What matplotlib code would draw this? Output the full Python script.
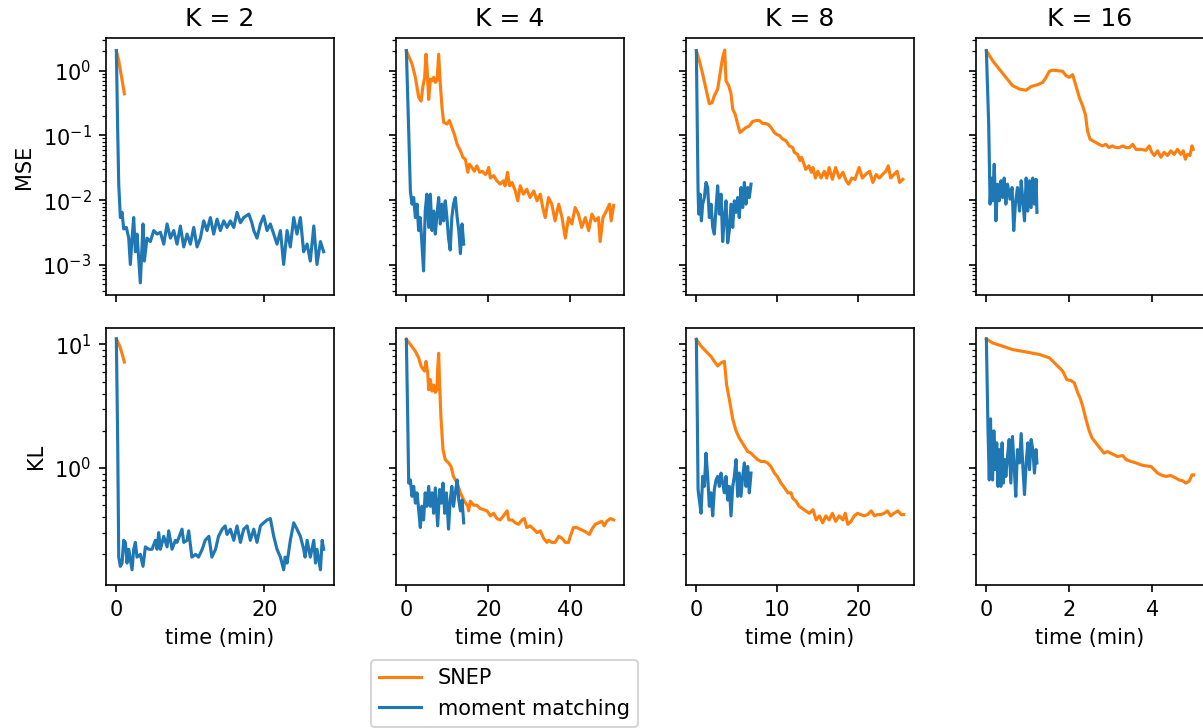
import matplotlib
matplotlib.use("Agg")
import matplotlib.pyplot as plt

ks = [2, 4, 8, 16]

# (time in min, value)
# ---- K = 2
snep_mse_2 = [(0, 2.04), (0.32, 1.43), (0.63, 0.89), (0.9, 0.59), (1.08, 0.44)]
mm_mse_2 = [(0, 2.04), (0.18, 0.118), (0.32, 0.0177), (0.54, 0.0054), (0.77, 0.0065), (0.99, 0.0036),
            (1.35, 0.0038), (1.67, 0.0026), (1.89, 0.00102), (2.12, 0.0026), (2.34, 0.0054), (2.57, 0.0016),
            (2.79, 0.0030), (3.24, 0.00053), (3.60, 0.0043), (3.78, 0.00115), (4.14, 0.0026), (4.59, 0.0023),
            (5.05, 0.0034), (5.50, 0.0030), (5.95, 0.0032), (6.40, 0.0021), (6.85, 0.0043), (7.30, 0.0026),
            (7.75, 0.0034), (8.20, 0.0021), (8.65, 0.0040), (9.10, 0.0019), (9.55, 0.0030), (10.0, 0.0021),
            (10.45, 0.0038), (10.9, 0.0019), (11.35, 0.0026), (11.8, 0.0048), (12.25, 0.0034), (12.7, 0.0054),
            (13.15, 0.0030), (13.6, 0.0051), (14.05, 0.0034), (14.5, 0.0048), (14.95, 0.0038), (15.4, 0.0048),
            (15.86, 0.0038), (16.3, 0.0065), (16.76, 0.0045), (17.2, 0.0054), (17.9, 0.0061), (18.3, 0.0045),
            (18.56, 0.0034), (19.0, 0.0026), (19.46, 0.0043), (19.9, 0.0057), (20.36, 0.0034), (20.8, 0.0043),
            (21.26, 0.0030), (21.7, 0.0021), (22.16, 0.0034), (22.6, 0.00102), (23.06, 0.0034), (23.5, 0.0019),
            (23.96, 0.0054), (24.4, 0.0030), (24.86, 0.0054), (25.3, 0.0016), (25.77, 0.0021), (26.2, 0.00115),
            (26.67, 0.0040), (27.1, 0.00102), (27.57, 0.0023), (28.0, 0.0016)]
snep_kl_2 = [(0, 11.1), (0.45, 9.7), (0.81, 8.3), (1.08, 7.2)]
mm_kl_2 = [(0, 11.1), (0.18, 1.6), (0.32, 0.19), (0.54, 0.16), (0.77, 0.17), (0.99, 0.26), (1.22, 0.25),
           (1.44, 0.17), (1.67, 0.22), (2.12, 0.15), (2.34, 0.22), (2.57, 0.25), (2.79, 0.19), (3.24, 0.20),
           (3.6, 0.16), (3.92, 0.23), (4.37, 0.22), (4.82, 0.22), (5.27, 0.26), (5.5, 0.22), (5.72, 0.30),
           (5.95, 0.22), (6.4, 0.28), (6.85, 0.23), (7.07, 0.31), (7.52, 0.22), (7.97, 0.26), (8.2, 0.25),
           (8.87, 0.32), (9.1, 0.25), (9.55, 0.26), (9.77, 0.31), (10.2, 0.19), (10.7, 0.20), (11.1, 0.19),
           (11.6, 0.22), (12.0, 0.26), (12.5, 0.28), (12.9, 0.19), (13.4, 0.22), (13.8, 0.28), (14.3, 0.32),
           (14.7, 0.34), (14.95, 0.29), (15.4, 0.32), (15.86, 0.26), (16.3, 0.34), (16.76, 0.25), (17.2, 0.32),
           (17.66, 0.34), (18.1, 0.26), (18.56, 0.32), (19.0, 0.25), (19.46, 0.34), (19.9, 0.36), (20.36, 0.38),
           (20.8, 0.39), (21.26, 0.28), (21.7, 0.22), (22.16, 0.19), (22.6, 0.15), (22.8, 0.19), (23.06, 0.17),
           (23.5, 0.26), (23.96, 0.36), (24.4, 0.32), (24.86, 0.28), (25.3, 0.22), (25.5, 0.19), (25.77, 0.26),
           (26.2, 0.19), (26.67, 0.26), (26.9, 0.17), (27.1, 0.22), (27.57, 0.15), (27.8, 0.26), (28.0, 0.22)]

# ---- K = 4
snep_mse_4 = [(0, 2.04), (1.38, 1.27), (2.2, 0.79), (3.0, 0.39), (3.58, 0.34), (4.07, 0.59), (4.47, 0.79),
              (4.8, 1.8), (5.04, 1.13), (5.45, 0.36), (5.85, 0.74), (6.26, 0.70), (6.67, 0.79), (7.07, 0.66),
              (7.48, 0.70), (7.89, 1.8), (8.29, 0.62), (8.7, 0.27), (9.1, 0.16), (9.92, 0.15), (10.5, 0.17),
              (11.1, 0.133), (11.7, 0.105), (12.4, 0.073), (13.2, 0.058), (13.8, 0.046), (14.4, 0.043),
              (15.0, 0.027), (15.4, 0.036), (16.0, 0.032), (16.6, 0.028), (17.2, 0.034), (17.9, 0.027),
              (18.5, 0.028), (19.3, 0.025), (19.7, 0.027), (20.1, 0.032), (20.5, 0.022), (21.3, 0.024),
              (22.1, 0.020), (22.9, 0.0177), (23.7, 0.020), (24.1, 0.0167), (24.7, 0.027), (25.2, 0.0167),
              (25.8, 0.0188), (26.6, 0.0139), (27.2, 0.0098), (27.8, 0.0167), (28.6, 0.0124), (29.4, 0.0148),
              (30.2, 0.011), (31.1, 0.0139), (31.9, 0.0098), (32.7, 0.0124), (33.3, 0.0077), (33.9, 0.0054),
              (34.7, 0.011), (35.5, 0.0087), (36.3, 0.0048), (37.2, 0.0087), (38.0, 0.0054), (38.8, 0.0026),
              (39.6, 0.0054), (40.4, 0.0043), (41.2, 0.0077), (42.0, 0.0061), (42.8, 0.0038), (43.7, 0.0054),
              (44.5, 0.0034), (45.3, 0.0061), (46.1, 0.0048), (46.9, 0.0054), (47.3, 0.0023), (48.0, 0.0054),
              (48.8, 0.0068), (49.6, 0.0087), (50.0, 0.0048), (50.6, 0.0083)]
mm_mse_4 = [(0, 2.04), (0.57, 0.118), (0.98, 0.0139), (1.38, 0.0087), (1.79, 0.011), (2.2, 0.0054),
            (2.6, 0.0087), (3.0, 0.0034), (3.4, 0.0054), (3.8, 0.0021), (4.2, 0.00081), (4.6, 0.0068),
            (5.0, 0.0124), (5.45, 0.0038), (5.85, 0.0124), (6.26, 0.0034), (6.67, 0.0068), (7.07, 0.0030),
            (7.48, 0.0061), (7.89, 0.011), (8.29, 0.0043), (8.7, 0.0087), (9.1, 0.0048), (9.5, 0.0098),
            (9.9, 0.0054), (10.3, 0.0026), (10.7, 0.0017), (11.1, 0.0054), (11.5, 0.0087), (11.95, 0.011),
            (12.4, 0.0054), (12.8, 0.0034), (13.2, 0.0015), (13.6, 0.0043), (14.0, 0.0021)]
snep_kl_4 = [(0, 11.0), (0.98, 10.0), (2.2, 8.8), (3.0, 7.8), (3.58, 6.7), (4.07, 6.3), (4.47, 6.1),
             (4.8, 7.3), (5.2, 5.9), (5.45, 4.3), (5.85, 5.2), (6.26, 4.2), (6.67, 4.7), (7.07, 4.1),
             (7.48, 4.3), (7.64, 6.3), (7.89, 8.5), (8.13, 4.6), (8.46, 2.5), (8.94, 1.41), (9.5, 1.17),
             (10.3, 1.10), (10.9, 1.03), (11.5, 0.855), (12.4, 0.755), (13.2, 0.63), (14.0, 0.55), (15.0, 0.49),
             (15.2, 0.45), (15.6, 0.54), (16.4, 0.50), (17.2, 0.50), (18.0, 0.47), (18.9, 0.46), (19.7, 0.45),
             (20.5, 0.41), (21.3, 0.43), (22.1, 0.39), (22.9, 0.38), (23.7, 0.41), (24.6, 0.45), (25.0, 0.38),
             (25.8, 0.38), (26.6, 0.36), (27.4, 0.35), (28.2, 0.38), (28.8, 0.39), (29.4, 0.33), (30.2, 0.34),
             (31.1, 0.32), (31.9, 0.30), (32.7, 0.31), (33.5, 0.27), (34.3, 0.25), (34.7, 0.26), (35.5, 0.25),
             (36.3, 0.25), (37.2, 0.28), (38.0, 0.27), (38.8, 0.25), (39.6, 0.25), (40.0, 0.28), (40.8, 0.33),
             (41.6, 0.33), (42.4, 0.32), (43.3, 0.31), (44.1, 0.30), (44.7, 0.29), (45.3, 0.32), (46.1, 0.35),
             (46.9, 0.36), (47.7, 0.37), (48.3, 0.34), (48.9, 0.37), (49.8, 0.39), (50.6, 0.38)]
mm_kl_4 = [(0, 11.0), (0.33, 2.5), (0.57, 0.755), (0.98, 0.80), (1.38, 0.59), (1.79, 0.71), (2.2, 0.52),
           (2.6, 0.63), (3.0, 0.46), (3.4, 0.33), (3.8, 0.49), (4.2, 0.38), (4.6, 0.63), (5.0, 0.49),
           (5.45, 0.71), (5.85, 0.49), (6.26, 0.63), (6.67, 0.43), (7.07, 0.69), (7.64, 0.34), (8.13, 0.67),
           (8.54, 0.52), (8.94, 0.755), (9.35, 0.43), (9.76, 0.63), (10.3, 0.32), (10.7, 0.55), (11.1, 0.71),
           (11.5, 0.49), (11.95, 0.63), (12.4, 0.80), (12.8, 0.55), (13.2, 0.45), (13.6, 0.55), (14.0, 0.36)]

# ---- K = 8
snep_mse_8 = [(0, 2.04), (0.37, 1.43), (0.78, 0.89), (1.19, 0.52), (1.6, 0.31), (1.93, 0.32), (2.22, 0.41),
              (2.63, 0.52), (3.05, 1.13), (3.25, 1.61), (3.5, 2.08), (3.66, 0.70), (3.99, 0.59), (4.28, 0.44),
              (4.49, 0.255), (4.81, 0.21), (5.1, 0.15), (5.39, 0.111), (5.72, 0.12), (6.13, 0.133), (6.54, 0.14),
              (6.95, 0.165), (7.37, 0.17), (7.78, 0.17), (8.19, 0.153), (8.6, 0.153), (8.93, 0.146),
              (9.22, 0.133), (9.63, 0.111), (9.84, 0.105), (10.25, 0.10), (10.66, 0.088), (11.07, 0.083),
              (11.48, 0.069), (11.9, 0.065), (12.1, 0.055), (12.5, 0.051), (12.8, 0.041), (13.0, 0.046),
              (13.3, 0.036), (13.5, 0.030), (13.9, 0.034), (14.2, 0.027), (14.4, 0.032), (14.7, 0.022),
              (15.0, 0.028), (15.4, 0.022), (15.8, 0.028), (16.1, 0.022), (16.4, 0.032), (16.8, 0.021),
              (17.2, 0.032), (17.65, 0.022), (18.1, 0.027), (18.5, 0.020), (18.8, 0.0177), (19.2, 0.022),
              (19.6, 0.021), (20.1, 0.032), (20.5, 0.022), (20.9, 0.025), (21.4, 0.028), (21.8, 0.0188),
              (22.2, 0.025), (22.6, 0.022), (23.0, 0.025), (23.4, 0.028), (23.7, 0.034), (24.0, 0.022),
              (24.4, 0.025), (24.8, 0.028), (25.1, 0.0188), (25.5, 0.021)]
mm_mse_8 = [(0, 2.04), (0.12, 0.118), (0.21, 0.0139), (0.29, 0.0061), (0.45, 0.0124), (0.62, 0.0048),
            (0.78, 0.0087), (0.99, 0.011), (1.19, 0.0188), (1.4, 0.0157), (1.6, 0.0054), (1.81, 0.0087),
            (2.02, 0.0038), (2.22, 0.0030), (2.43, 0.0077), (2.63, 0.0167), (2.84, 0.0061), (3.05, 0.0124),
            (3.25, 0.0023), (3.46, 0.0054), (3.66, 0.0098), (3.87, 0.0022), (4.07, 0.0034), (4.28, 0.0087),
            (4.49, 0.0038), (4.69, 0.0098), (4.9, 0.0065), (5.1, 0.011), (5.3, 0.0054), (5.51, 0.0157),
            (5.72, 0.0077), (5.93, 0.0188), (6.13, 0.0087), (6.34, 0.0157), (6.54, 0.011), (6.75, 0.0177)]
snep_kl_8 = [(0, 11.0), (0.58, 9.7), (1.19, 8.8), (1.81, 8.0), (2.22, 7.3), (2.63, 6.7), (3.05, 7.1),
             (3.46, 7.3), (3.74, 4.7), (4.07, 3.6), (4.49, 2.5), (4.9, 2.0), (5.3, 1.75), (5.8, 1.55),
             (6.34, 1.36), (6.75, 1.32), (7.16, 1.24), (7.57, 1.17), (7.98, 1.13), (8.4, 1.13), (8.8, 1.10),
             (9.2, 1.03), (9.63, 0.91), (10.0, 0.855), (10.45, 0.755), (10.9, 0.69), (11.3, 0.63), (11.7, 0.63),
             (11.9, 0.57), (12.3, 0.54), (12.7, 0.49), (13.1, 0.47), (13.5, 0.45), (13.95, 0.43), (14.4, 0.46),
             (14.8, 0.38), (15.2, 0.41), (15.6, 0.36), (16.0, 0.41), (16.4, 0.38), (16.8, 0.43), (17.2, 0.37),
             (17.65, 0.41), (18.1, 0.38), (18.4, 0.43), (18.7, 0.35), (19.1, 0.37), (19.5, 0.41), (19.9, 0.43),
             (20.3, 0.42), (20.7, 0.41), (21.15, 0.42), (21.6, 0.45), (22.0, 0.41), (22.4, 0.42), (22.8, 0.42),
             (23.2, 0.43), (23.6, 0.45), (24.0, 0.41), (24.4, 0.43), (24.9, 0.45), (25.3, 0.42), (25.6, 0.42)]
mm_kl_8 = [(0, 11.0), (0.12, 2.5), (0.21, 0.67), (0.37, 0.55), (0.58, 0.43), (0.78, 0.855), (0.99, 0.71),
           (1.19, 1.32), (1.4, 0.855), (1.6, 0.49), (1.81, 0.63), (2.02, 0.41), (2.22, 0.67), (2.43, 0.80),
           (2.63, 0.855), (2.84, 0.71), (3.05, 0.91), (3.25, 0.755), (3.46, 0.63), (3.66, 0.855), (3.87, 0.55),
           (4.07, 0.71), (4.28, 0.41), (4.49, 0.71), (4.69, 0.855), (4.9, 1.17), (5.1, 0.59), (5.3, 0.91),
           (5.51, 0.59), (5.72, 0.855), (5.93, 1.10), (6.13, 0.71), (6.34, 1.03), (6.54, 0.63), (6.75, 0.91)]

# ---- K = 16
snep_mse_16 = [(0, 2.04), (0.15, 1.43), (0.31, 1.06), (0.47, 0.79), (0.63, 0.59), (0.8, 0.52), (0.96, 0.50),
               (1.08, 0.57), (1.24, 0.61), (1.36, 0.66), (1.44, 0.79), (1.52, 0.98), (1.6, 1.02), (1.72, 1.0),
               (1.84, 0.98), (1.92, 0.84), (2.0, 0.79), (2.08, 0.87), (2.16, 0.59), (2.24, 0.39), (2.32, 0.29),
               (2.39, 0.21), (2.44, 0.118), (2.5, 0.088), (2.56, 0.083), (2.64, 0.078), (2.72, 0.073),
               (2.8, 0.069), (2.88, 0.073), (2.96, 0.065), (3.04, 0.069), (3.12, 0.065), (3.2, 0.065),
               (3.29, 0.069), (3.37, 0.065), (3.45, 0.065), (3.53, 0.073), (3.61, 0.061), (3.73, 0.061),
               (3.85, 0.059), (3.93, 0.069), (3.99, 0.055), (4.05, 0.049), (4.13, 0.058), (4.21, 0.046),
               (4.29, 0.055), (4.37, 0.049), (4.45, 0.058), (4.53, 0.051), (4.61, 0.061), (4.69, 0.051),
               (4.75, 0.058), (4.8, 0.043), (4.85, 0.051), (4.91, 0.049), (4.96, 0.069), (4.99, 0.061)]
mm_mse_16 = [(0, 2.04), (0.056, 0.15), (0.09, 0.0087), (0.12, 0.022), (0.15, 0.0098), (0.19, 0.036),
             (0.23, 0.0048), (0.27, 0.0177), (0.31, 0.0098), (0.35, 0.020), (0.39, 0.011), (0.43, 0.022),
             (0.47, 0.0087), (0.51, 0.0177), (0.57, 0.0104), (0.62, 0.0157), (0.66, 0.0034), (0.7, 0.0087),
             (0.75, 0.0157), (0.8, 0.0068), (0.84, 0.020), (0.88, 0.0098), (0.92, 0.0048), (0.96, 0.022),
             (1.0, 0.0068), (1.04, 0.020), (1.08, 0.0077), (1.12, 0.022), (1.16, 0.0087), (1.2, 0.021),
             (1.22, 0.0065)]
snep_kl_16 = [(0, 11.1), (0.15, 10.3), (0.39, 9.7), (0.63, 9.1), (0.96, 8.7), (1.28, 8.3), (1.52, 7.8),
              (1.68, 6.9), (1.84, 6.1), (1.94, 5.2), (2.04, 5.1), (2.12, 4.9), (2.2, 4.1), (2.26, 3.7),
              (2.32, 3.2), (2.4, 2.5), (2.48, 2.0), (2.55, 1.75), (2.64, 1.6), (2.74, 1.45), (2.84, 1.32),
              (2.92, 1.36), (3.04, 1.30), (3.16, 1.24), (3.29, 1.26), (3.37, 1.17), (3.49, 1.13), (3.61, 1.10),
              (3.73, 1.06), (3.85, 1.04), (3.97, 1.03), (4.05, 0.97), (4.13, 0.91), (4.21, 0.88), (4.33, 0.855),
              (4.45, 0.87), (4.57, 0.83), (4.65, 0.80), (4.73, 0.79), (4.81, 0.755), (4.89, 0.78), (4.96, 0.88),
              (5.0, 0.88)]
mm_kl_16 = [(0, 11.1), (0.04, 2.0), (0.07, 0.80), (0.1, 2.5), (0.12, 1.17), (0.15, 0.80), (0.18, 2.0),
            (0.22, 0.97), (0.25, 1.6), (0.28, 0.71), (0.31, 1.41), (0.35, 0.71), (0.38, 1.6), (0.41, 0.755),
            (0.44, 1.17), (0.47, 0.855), (0.51, 1.24), (0.55, 1.7), (0.59, 0.755), (0.63, 1.8), (0.67, 1.03),
            (0.71, 0.59), (0.75, 1.41), (0.8, 1.10), (0.84, 1.9), (0.88, 1.03), (0.92, 0.61), (0.96, 1.10),
            (1.0, 1.6), (1.04, 0.97), (1.08, 1.7), (1.12, 1.41), (1.16, 0.91), (1.2, 1.41), (1.22, 1.10)]

snep_mse = [snep_mse_2, snep_mse_4, snep_mse_8, snep_mse_16]
mm_mse = [mm_mse_2, mm_mse_4, mm_mse_8, mm_mse_16]
snep_kl = [snep_kl_2, snep_kl_4, snep_kl_8, snep_kl_16]
mm_kl = [mm_kl_2, mm_kl_4, mm_kl_8, mm_kl_16]

W, H = 1203, 728
DPI = 150
fig, axes = plt.subplots(2, 4, sharex='col', sharey='row', figsize=(W / DPI, H / DPI), dpi=DPI)

for j, k in enumerate(ks):
    left = (106 + 290 * j) / W
    axes[0, j].set_position([left, 1 - 295 / H, 228 / W, 257 / H])
    axes[1, j].set_position([left, 1 - 585 / H, 228 / W, 257 / H])

    for row, (sn, mm) in enumerate([(snep_mse[j], mm_mse[j]), (snep_kl[j], mm_kl[j])]):
        ax = axes[row, j]
        t, v = zip(*sn)
        ax.plot(t, v, color='tab:orange', label='SNEP')
        t, v = zip(*mm)
        ax.plot(t, v, color='tab:blue', label='moment matching')
        ax.set_yscale('log')

    axes[0, j].set_title('K = %d' % k)
    axes[1, j].set_xlabel('time (min)')

axes[0, 0].set_ylim(3.44e-4, 3.2)
axes[1, 0].set_ylim(0.113, 13.6)
axes[0, 0].set_ylabel('MSE')
axes[1, 0].set_ylabel('KL')

handles, labels = axes[0, 0].get_legend_handles_labels()
fig.legend(handles, labels, loc='upper left', bbox_to_anchor=(371 / W, 1 - 660 / H),
           borderaxespad=0)

fig.savefig('out.png', dpi=DPI)
